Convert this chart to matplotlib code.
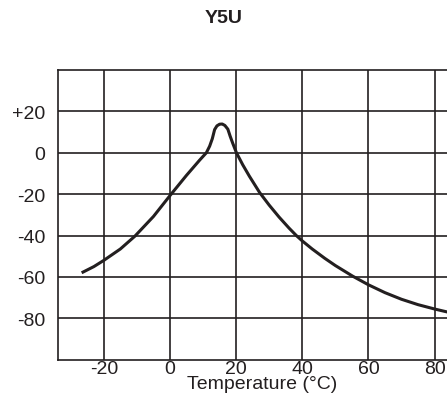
import matplotlib
matplotlib.use("Agg")
import matplotlib.pyplot as plt

plt.rcParams['font.family'] = ['Liberation Sans', 'DejaVu Sans']

# Data
temperature = [-26.7, -23, -20, -15, -10.6, -5, 0, 5, 9, 11, 12, 12.8, 13.5, 14.2, 15.0, 15.8,
               16.6, 17.5, 18.2, 19.0, 20.1, 22, 24, 27.1, 30, 33, 36, 38.2, 40, 43, 46.8, 50,
               55.2, 60, 65, 70, 75, 80, 84]
cap_change = [-58, -55, -52, -46.5, -40.3, -30.8, -20.7, -10.9, -3.5, 0, 3.2, 6.8, 11.2, 13, 13.8, 13.9,
              13.2, 11.4, 8, 4.5, 0, -5.8, -11.3, -19.2, -25.3, -31.1, -36.4, -40, -42.6, -46.5, -51, -54.5,
              -59.6, -63.8, -67.6, -70.8, -73.4, -75.5, -77]

x_ticks = [-20, 0, 20, 40, 60, 80]
x_ticklabels = ['-20', '0', '20', '40', '60', '80']
y_ticks = [20, 0, -20, -40, -60, -80]
y_ticklabels = ['+20', '0', '-20', '-40', '-60', '-80']

W, H = 447, 406
fig = plt.figure(figsize=(W / 100, H / 100), dpi=100)
left, right, top, bottom = 57.5, 467, 71, 360.7
ax = fig.add_axes([left / W, (H - bottom) / H, (right - left) / W, (bottom - top) / H])

ax.plot(temperature, cap_change, color='#231f20', lw=2.2, solid_capstyle='butt',
        solid_joinstyle='round', zorder=3)

ax.set_xlim(-34, 89.8)
ax.set_ylim(-100, 40)
ax.set_xticks(x_ticks)
ax.set_xticklabels(x_ticklabels)
ax.set_yticks(y_ticks)
ax.set_yticklabels(y_ticklabels)
ax.tick_params(axis='both', length=0, labelsize=14, colors='#231f20')
ax.tick_params(axis='y', pad=9)
ax.tick_params(axis='x', pad=0)
ax.grid(True, color='#231f20', lw=1.2)
for s in ax.spines.values():
    s.set_color('#231f20')
    s.set_linewidth(1.2)

ax.set_xlabel('Temperature (°C)', fontsize=14, color='#231f20', labelpad=-1)
fig.text(224 / W, 1 - 18.5 / H, 'Y5U', ha='center', va='center', fontsize=14,
         fontweight='bold', color='#231f20')

fig.savefig('out.png', dpi=100)
